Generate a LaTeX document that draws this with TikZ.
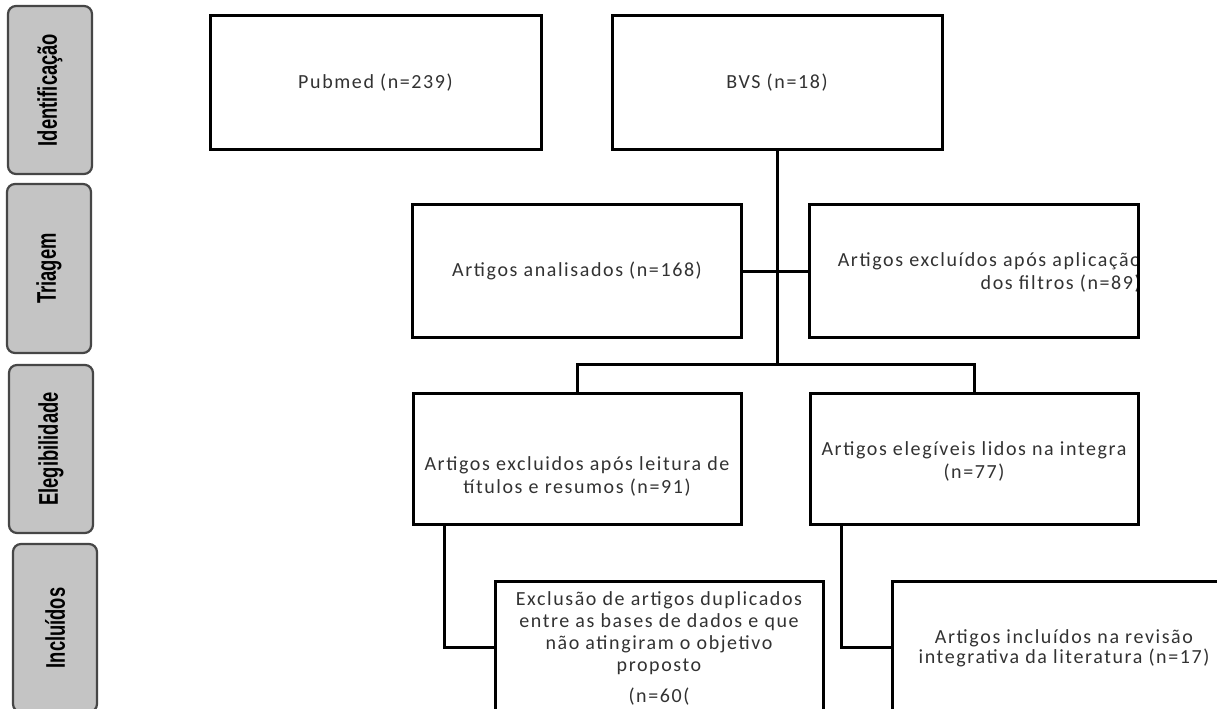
\documentclass[tikz,border=0pt]{standalone}
\usepackage{fontspec}
\setmainfont{Carlito}[LetterSpace=8]
\newfontfamily\labelfont{Liberation Sans}
\usetikzlibrary{calc}
\definecolor{txtgray}{RGB}{50,50,50}
\definecolor{lblfill}{RGB}{196,196,196}
\definecolor{lbldraw}{RGB}{70,70,70}
\begin{document}
\begin{tikzpicture}[x=1bp,y=-1bp,
  box/.style={draw=black, line width=3bp, inner sep=0pt, text=txtgray,
    font=\fontsize{20bp}{23bp}\selectfont, align=center},
  txt/.style={text=txtgray, inner sep=0pt, font=\fontsize{20bp}{23bp}\selectfont},
  conn/.style={draw=black, line width=3bp},
  lbl/.style={draw=lbldraw, fill=lblfill, line width=2.2bp, rounded corners=8bp,
    rotate=90, minimum height=84bp, inner sep=0pt, text=black,
    font=\labelfont\bfseries\fontsize{27bp}{28bp}\selectfont}]
\useasboundingbox (0,0) rectangle (1217,709);
\clip (0,0) rectangle (1217,709);
\fill[white] (0,0) rectangle (1217,709);

% stage labels
\node[lbl, minimum width=168bp] (L1) at (50,90) {\scalebox{0.68}[1]{Identificação}};
\node[lbl, minimum width=169bp] (L2) at (49,268.5) {\scalebox{0.68}[1]{Triagem}};
\node[lbl, minimum width=168bp] (L3) at (51,449) {\scalebox{0.68}[1]{Elegibilidade}};
\node[lbl, minimum width=168bp] (L4) at (55,628) {\scalebox{0.68}[1]{Incluídos}};

% boxes
\node[box, minimum width=331bp, minimum height=133bp] (pub) at (375.5,82.5) {Pubmed (n=239)};
\node[box, minimum width=330bp, minimum height=133bp] (bvs) at (777,82.5) {BVS (n=18)};
\node[box, minimum width=329bp, minimum height=132bp] (ana) at (577,271) {Artigos analisados (n=168)};
\node[txt, align=right, anchor=east] (exft) at (1141,272) {Artigos excluídos após aplicação\\dos filtros (n=89)};
\node[box, minimum width=329bp, minimum height=132bp] (exf) at (973.5,271) {};
\node[txt, align=center] (exlt) at (577,476) {Artigos excluidos após leitura de\\títulos e resumos (n=91)};
\node[box, minimum width=328bp, minimum height=131bp] (exl) at (577,458.5) {};
\node[txt, align=center] (elegt) at (974,461) {Artigos elegíveis lidos na integra\\(n=77)};
\node[box, minimum width=328bp, minimum height=131bp] (eleg) at (974,458.5) {};
\node[txt, align=center, font=\fontsize{20bp}{22bp}\selectfont] (dupt) at (659,648) {Exclusão de artigos duplicados\\entre as bases de dados e que\\não atingiram o objetivo\\proposto\\[9bp](n=60(};
\node[box, minimum width=328bp, minimum height=132bp] (dup) at (659,647) {};
\node[txt, align=center, font=\fontsize{20bp}{20bp}\selectfont] (inct) at (1064,648) {Artigos incluídos na revisão\\integrativa da literatura (n=17)};
\node[box, minimum width=344bp, minimum height=132bp] (inc) at (1064,647) {};

% connectors
\coordinate (j1) at (777,364);
\draw[conn] (bvs.south) -- (j1);
\draw[conn] (ana.east) -- (exf.west);
\draw[conn] (exl.north) |- (j1) -| (eleg.north);
\draw[conn] ($(exl.south west)!0.1!(exl.south east)$) |- (dup.west);
\draw[conn] ($(eleg.south west)!0.1!(eleg.south east)$) |- (inc.west);
\end{tikzpicture}
\end{document}
